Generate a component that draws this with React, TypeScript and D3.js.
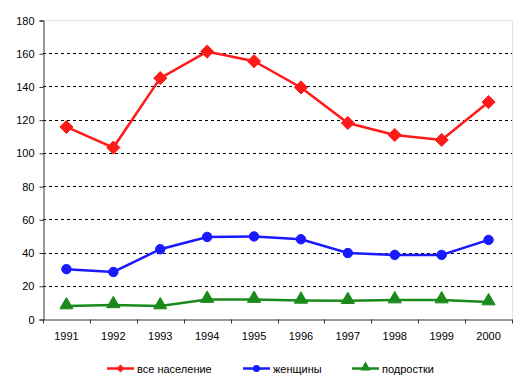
import React, { useRef, useEffect } from "react";
import * as d3 from "d3";

const years = ["1991", "1992", "1993", "1994", "1995", "1996", "1997", "1998", "1999", "2000"];
const allPopulation = [115.6, 103.2, 145, 161, 155.2, 139.4, 118, 110.8, 107.8, 130.6];
const women = [30, 28.3, 42, 49.4, 49.7, 48, 39.7, 38.6, 38.6, 47.6];
const teens = [7.8, 8.5, 7.8, 11.7, 11.7, 11.2, 11, 11.4, 11.4, 10.2];
const yTicks = [0, 20, 40, 60, 80, 100, 120, 140, 160, 180];

const series = [
  { name: "все население", values: allPopulation, color: "#ff1a1a", marker: "diamond" },
  { name: "женщины", values: women, color: "#1a1aff", marker: "circle" },
  { name: "подростки", values: teens, color: "#1a8a1a", marker: "triangle" },
];

const App = () => {
  const ref = useRef(null);

  useEffect(() => {
    const svg = d3.select(ref.current);
    svg.selectAll("*").remove();

    const margin = { top: 20, right: 4, bottom: 69, left: 43 };
    const width = 516;
    const height = 388;

    const x = d3
      .scaleBand()
      .domain(years)
      .range([margin.left, width - margin.right]);

    const y = d3
      .scaleLinear()
      .domain([0, 180])
      .range([height - margin.bottom, margin.top]);

    const font = "Liberation Sans, Arial, sans-serif";

    // plot border (light)
    svg
      .append("path")
      .attr("d", `M${margin.left},${margin.top + 0.5}H${width - margin.right + 0.5}V${height - margin.bottom}`)
      .attr("fill", "none")
      .attr("stroke", "#e4e4e4")
      .attr("stroke-width", 1);

    // grid
    svg
      .append("g")
      .selectAll("line")
      .data(yTicks.filter((d) => d > 0 && d < 180))
      .join("line")
      .attr("x1", margin.left)
      .attr("x2", width - margin.right)
      .attr("y1", (d) => Math.round(y(d)) + 0.5)
      .attr("y2", (d) => Math.round(y(d)) + 0.5)
      .attr("stroke", "#000")
      .attr("stroke-width", 1)
      .attr("stroke-dasharray", "3 3");

    // y axis
    const yAxis = d3.axisLeft(y).tickValues(yTicks).tickSize(4).tickPadding(5);
    const gy = svg
      .append("g")
      .attr("transform", `translate(${margin.left + 0.5},0.5)`)
      .call(yAxis);
    gy.select(".domain").attr("stroke", "#333");
    gy.selectAll(".tick line").attr("stroke", "#333");
    gy.selectAll("text").attr("font-family", font).attr("font-size", 11).attr("fill", "#000");

    // x axis
    const xAxis = d3.axisBottom(x).tickSize(0).tickPadding(13);
    const gx = svg
      .append("g")
      .attr("transform", `translate(0,${height - margin.bottom + 0.5})`)
      .call(xAxis);
    gx.select(".domain").attr("stroke", "#333");
    gx.selectAll("text").attr("font-family", font).attr("font-size", 11).attr("fill", "#000");
    gx.selectAll(".boundary")
      .data(d3.range(years.length + 1))
      .join("line")
      .attr("class", "boundary")
      .attr("x1", (i) => Math.round(margin.left + i * x.step()) + 0.5)
      .attr("x2", (i) => Math.round(margin.left + i * x.step()) + 0.5)
      .attr("y1", 0)
      .attr("y2", 4)
      .attr("stroke", "#333");

    const cx = (i) => x(years[i]) + x.bandwidth() / 2;

    const markerPath = (type, size) => {
      if (type === "diamond") return d3.symbol(d3.symbolDiamond2, size)();
      if (type === "circle") return d3.symbol(d3.symbolCircle, size)();
      return d3.symbol(d3.symbolTriangle, size)();
    };

    series.forEach((s) => {
      const line = d3
        .line()
        .x((d, i) => cx(i))
        .y((d) => y(d));

      svg
        .append("path")
        .datum(s.values)
        .attr("d", line)
        .attr("fill", "none")
        .attr("stroke", s.color)
        .attr("stroke-width", 2.5);

      const size = s.marker === "diamond" ? 110 : s.marker === "circle" ? 70 : 75;
      svg
        .append("g")
        .selectAll("path")
        .data(s.values)
        .join("path")
        .attr("d", markerPath(s.marker, size))
        .attr("transform", (d, i) => `translate(${cx(i)},${y(d) - (s.marker === "triangle" ? 1 : 0)})`)
        .attr("fill", s.color)
        .attr("stroke", s.color)
        .attr("stroke-width", 1);
    });

    // legend
    const legendX = [107, 243, 352];
    const legendY = 368;
    series.forEach((s, i) => {
      const g = svg.append("g").attr("transform", `translate(${legendX[i]},${legendY})`);
      g.append("line")
        .attr("x1", 0)
        .attr("x2", 27)
        .attr("y1", 0.5)
        .attr("y2", 0.5)
        .attr("stroke", s.color)
        .attr("stroke-width", 2.5);
      g.append("path")
        .attr("d", markerPath(s.marker, s.marker === "triangle" ? 45 : 40))
        .attr("transform", `translate(13.5,${s.marker === "triangle" ? -0.5 : 0.5})`)
        .attr("fill", s.color);
      g.append("text")
        .attr("x", 30)
        .attr("y", 4.5)
        .attr("font-family", font)
        .attr("font-size", 11)
        .attr("fill", "#000")
        .text(s.name);
    });
  }, []);

  return <svg ref={ref} width={516} height={388} style={{ position: "absolute", left: 0, top: 0, background: "#fff" }} />;
};

export default App;
